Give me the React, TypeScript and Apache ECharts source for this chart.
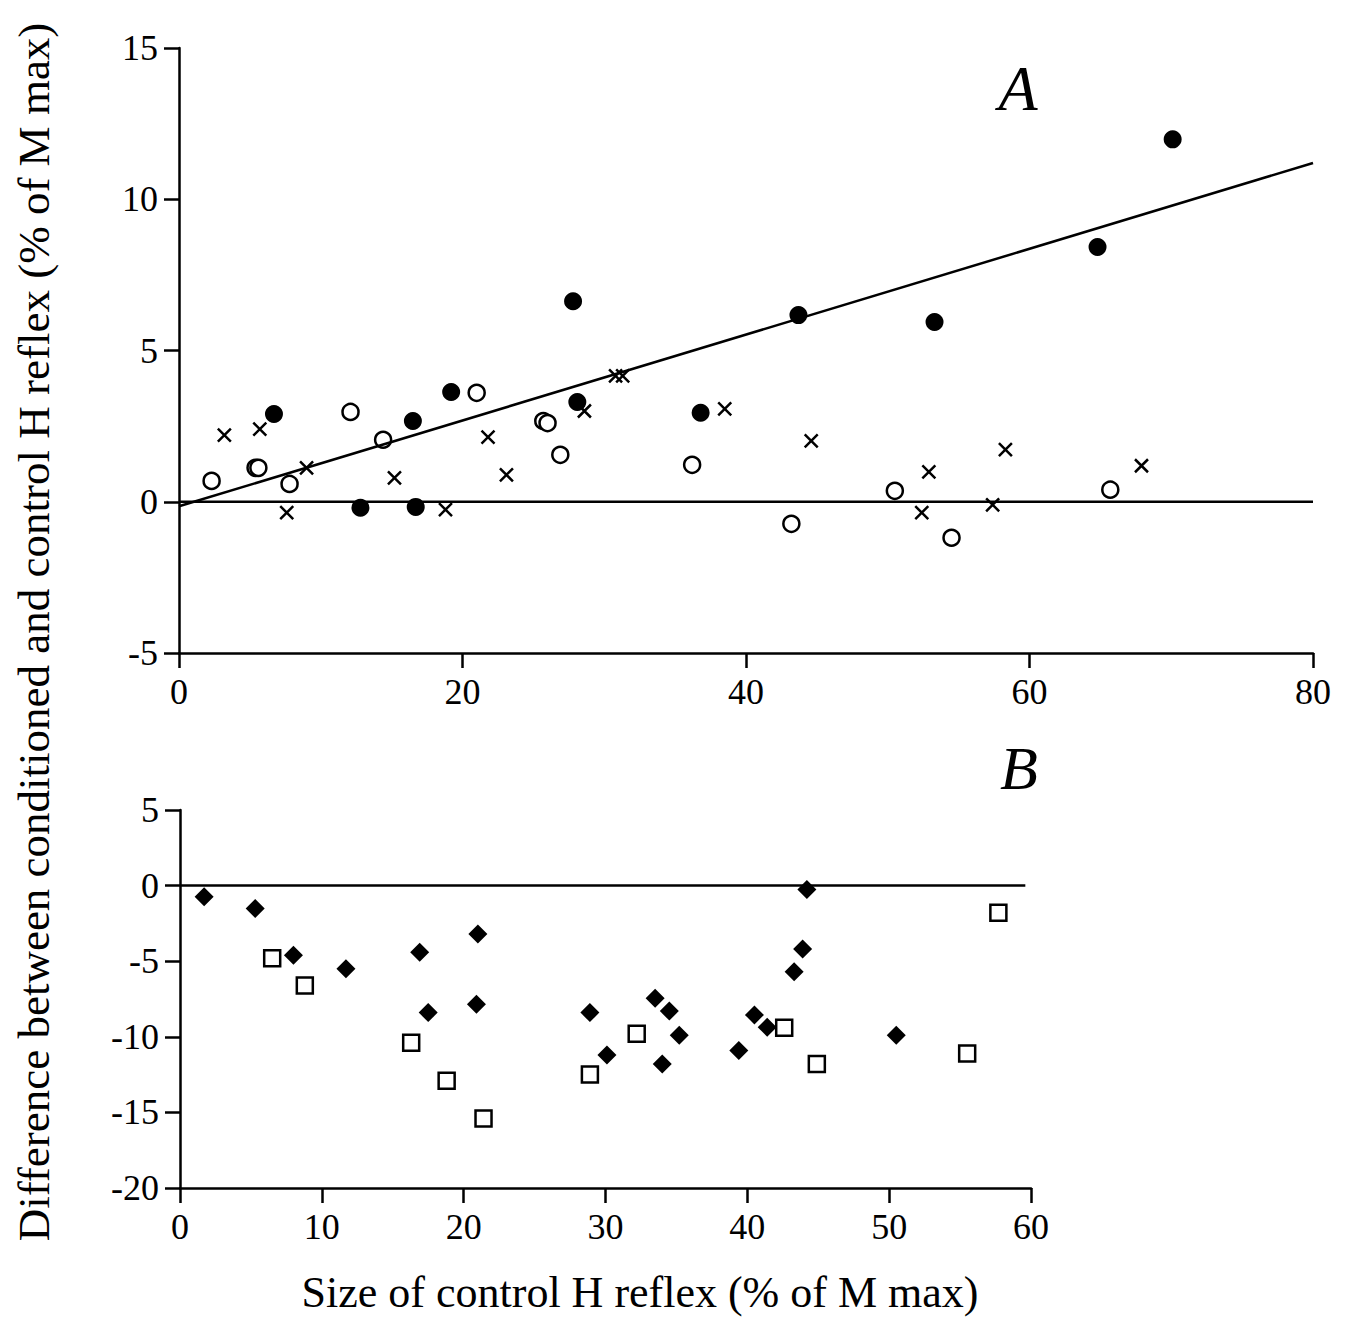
import React, { useEffect, useRef } from "react";
import * as echarts from "echarts";

// Panel A data: [size of control H reflex, difference]
const aFilled: number[][] = [
  [6.7, 2.9], [12.8, -0.2], [16.5, 2.67], [16.7, -0.17], [19.2, 3.63], [27.8, 6.63],
  [28.1, 3.3], [36.8, 2.94], [43.7, 6.17], [53.3, 5.94], [64.8, 8.42], [70.1, 11.98],
];
const aOpen: number[][] = [
  [2.3, 0.69], [5.4, 1.12], [5.6, 1.12], [7.8, 0.59], [12.1, 2.97], [14.4, 2.05],
  [21.0, 3.6], [25.7, 2.67], [26.0, 2.6], [26.9, 1.55], [36.2, 1.22], [43.2, -0.73],
  [50.5, 0.36], [54.5, -1.19], [65.7, 0.4],
];
const aCross: number[][] = [
  [3.2, 2.2], [5.7, 2.4], [7.6, -0.36], [9.0, 1.12], [15.2, 0.79], [18.8, -0.26],
  [21.8, 2.14], [23.1, 0.89], [28.6, 3.0], [30.8, 4.16], [31.3, 4.16], [38.5, 3.07],
  [44.6, 2.01], [52.9, 0.99], [52.4, -0.36], [57.4, -0.1], [58.3, 1.72], [67.9, 1.19],
];
const aRegression: number[][] = [[0, -0.15], [80, 11.2]];
const aZero: number[][] = [[0, 0], [80, 0]];

// Panel B data
const bDiamond: number[][] = [
  [1.7, -0.73], [5.3, -1.52], [8.0, -4.6], [11.7, -5.5], [16.9, -4.4], [17.5, -8.4],
  [21.0, -3.2], [20.9, -7.85], [28.9, -8.4], [30.1, -11.2], [33.5, -7.45], [34.5, -8.3],
  [35.2, -9.9], [34.0, -11.8], [39.4, -10.9], [40.5, -8.55], [41.4, -9.37], [43.3, -5.7],
  [43.9, -4.2], [44.2, -0.26], [50.5, -9.9],
];
const bSquare: number[][] = [
  [6.5, -4.8], [8.8, -6.6], [16.3, -10.4], [18.8, -12.9], [21.4, -15.4], [28.9, -12.5],
  [32.2, -9.8], [42.6, -9.4], [44.9, -11.8], [55.5, -11.1], [57.7, -1.8],
];
const bZero: number[][] = [[0, 0], [59.6, 0]];

const FONT = "'Liberation Serif', 'DejaVu Serif', serif";
const BLACK = "#000";

function axisCommon(min: number, max: number, interval: number) {
  return {
    type: "value" as const,
    min,
    max,
    interval,
    splitLine: { show: false },
    axisLine: { show: true, onZero: false, lineStyle: { color: BLACK, width: 2.5 } },
    axisTick: { show: true, inside: false, length: 15, lineStyle: { color: BLACK, width: 2.5 } },
    axisLabel: { color: BLACK, fontFamily: FONT, fontSize: 36, margin: 21 },
  };
}

export default function App() {
  const ref = useRef<HTMLDivElement>(null);
  useEffect(() => {
    if (!ref.current) return;
    document.body.style.margin = "0";
    const chart = echarts.init(ref.current, undefined, { renderer: "svg" });
    const crossPath = "path://M0,0L10,10M10,0L0,10";
    chart.setOption({
      animation: false,
      backgroundColor: "#fff",
      grid: [
        { left: 179, top: 48, width: 1134, height: 605 },
        { left: 180, top: 810, width: 851, height: 378 },
      ],
      xAxis: [
        { ...axisCommon(0, 80, 20), gridIndex: 0 },
        { ...axisCommon(0, 60, 10), gridIndex: 1 },
      ],
      yAxis: [
        { ...axisCommon(-5, 15, 5), gridIndex: 0 },
        { ...axisCommon(-20, 5, 5), gridIndex: 1 },
      ],
      graphic: [
        {
          type: "text",
          x: 1018,
          y: 88,
          style: { text: "A", font: `italic 64px ${FONT}`, fill: BLACK, align: "center", verticalAlign: "middle" },
        },
        {
          type: "text",
          x: 1019,
          y: 768,
          style: { text: "B", font: `italic 62px ${FONT}`, fill: BLACK, align: "center", verticalAlign: "middle" },
        },
        {
          type: "text",
          x: 34,
          y: 632,
          rotation: Math.PI / 2,
          style: {
            text: "Difference between conditioned and control H reflex (% of M max)",
            font: `45px ${FONT}`,
            fill: BLACK,
            align: "center",
            verticalAlign: "middle",
          },
        },
        {
          type: "text",
          x: 640,
          y: 1292,
          style: {
            text: "Size of control H reflex (% of M max)",
            font: `44px ${FONT}`,
            fill: BLACK,
            align: "center",
            verticalAlign: "middle",
          },
        },
      ],
      series: [
        {
          type: "line", xAxisIndex: 0, yAxisIndex: 0, data: aZero, showSymbol: false, silent: true,
          lineStyle: { color: BLACK, width: 2.5 },
        },
        {
          type: "line", xAxisIndex: 0, yAxisIndex: 0, data: aRegression, showSymbol: false, silent: true,
          lineStyle: { color: BLACK, width: 2.5 },
        },
        {
          type: "scatter", xAxisIndex: 0, yAxisIndex: 0, data: aCross, symbol: crossPath, symbolSize: 13,
          itemStyle: { color: "transparent", borderColor: BLACK, borderWidth: 2.5, opacity: 1 },
        },
        {
          type: "scatter", xAxisIndex: 0, yAxisIndex: 0, data: aOpen, symbol: "circle", symbolSize: 16,
          itemStyle: { color: "#fff", borderColor: BLACK, borderWidth: 2.5, opacity: 1 },
        },
        {
          type: "scatter", xAxisIndex: 0, yAxisIndex: 0, data: aFilled, symbol: "circle", symbolSize: 18,
          itemStyle: { color: BLACK, opacity: 1 },
        },
        {
          type: "line", xAxisIndex: 1, yAxisIndex: 1, data: bZero, showSymbol: false, silent: true,
          lineStyle: { color: BLACK, width: 2.5 },
        },
        {
          type: "scatter", xAxisIndex: 1, yAxisIndex: 1, data: bSquare, symbol: "rect", symbolSize: 16,
          itemStyle: { color: "#fff", borderColor: BLACK, borderWidth: 2.5, opacity: 1 },
        },
        {
          type: "scatter", xAxisIndex: 1, yAxisIndex: 1, data: bDiamond, symbol: "diamond", symbolSize: 19,
          itemStyle: { color: BLACK, opacity: 1 },
        },
      ],
    });
    return () => chart.dispose();
  }, []);
  return <div ref={ref} style={{ width: 1348, height: 1318 }} />;
}
